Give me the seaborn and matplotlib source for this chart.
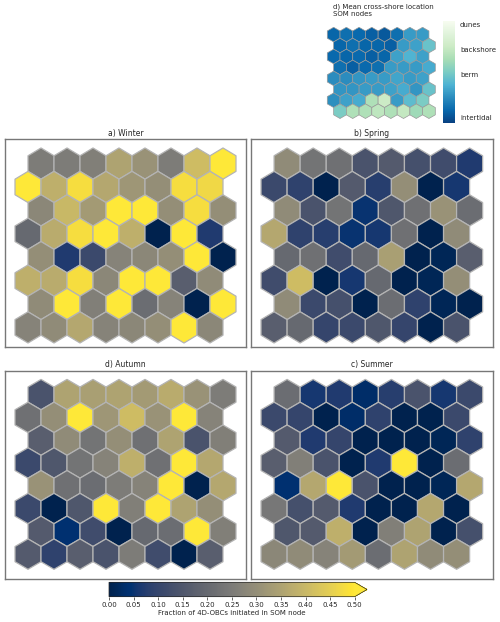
import numpy as np
import matplotlib
matplotlib.use("Agg")
import matplotlib.pyplot as plt
import seaborn as sns
from matplotlib.patches import RegularPolygon
from matplotlib.collections import PatchCollection
from matplotlib.colors import Normalize
from matplotlib.cm import ScalarMappable

# fraction of 4D-OBCs per SOM node (8 x 8 grid, top row first)
winter = [
    [0.25, 0.25, 0.26, 0.35, 0.31, 0.25, 0.41, 0.50],
    [0.50, 0.38, 0.48, 0.36, 0.32, 0.30, 0.48, 0.47],
    [0.28, 0.40, 0.33, 0.50, 0.50, 0.30, 0.48, 0.30],
    [0.20, 0.37, 0.48, 0.50, 0.38, 0.00, 0.50, 0.07],
    [0.30, 0.07, 0.11, 0.27, 0.28, 0.30, 0.50, 0.00],
    [0.38, 0.37, 0.48, 0.28, 0.50, 0.50, 0.17, 0.29],
    [0.29, 0.50, 0.26, 0.50, 0.21, 0.27, 0.00, 0.50],
    [0.27, 0.29, 0.36, 0.27, 0.28, 0.30, 0.50, 0.28],
]
spring = [
    [0.29, 0.23, 0.22, 0.14, 0.16, 0.13, 0.12, 0.07],
    [0.11, 0.09, 0.00, 0.16, 0.08, 0.30, 0.00, 0.06],
    [0.29, 0.14, 0.23, 0.05, 0.15, 0.22, 0.31, 0.21],
    [0.36, 0.09, 0.08, 0.05, 0.06, 0.22, 0.00, 0.29],
    [0.20, 0.22, 0.12, 0.20, 0.34, 0.00, 0.01, 0.17],
    [0.12, 0.41, 0.00, 0.06, 0.20, 0.00, 0.01, 0.30],
    [0.29, 0.11, 0.13, 0.00, 0.21, 0.09, 0.01, 0.00],
    [0.17, 0.20, 0.10, 0.11, 0.15, 0.10, 0.00, 0.14],
]
autumn = [
    [0.14, 0.35, 0.34, 0.35, 0.33, 0.37, 0.31, 0.25],
    [0.22, 0.30, 0.50, 0.32, 0.41, 0.31, 0.50, 0.27],
    [0.17, 0.29, 0.23, 0.30, 0.22, 0.35, 0.14, 0.26],
    [0.11, 0.15, 0.23, 0.27, 0.38, 0.22, 0.50, 0.36],
    [0.31, 0.22, 0.21, 0.25, 0.27, 0.50, 0.00, 0.36],
    [0.11, 0.00, 0.15, 0.50, 0.26, 0.50, 0.35, 0.30],
    [0.16, 0.04, 0.12, 0.00, 0.20, 0.21, 0.50, 0.26],
    [0.16, 0.09, 0.17, 0.14, 0.25, 0.12, 0.00, 0.17],
]
summer = [
    [0.21, 0.06, 0.07, 0.03, 0.08, 0.14, 0.06, 0.11],
    [0.11, 0.10, 0.00, 0.03, 0.09, 0.00, 0.00, 0.11],
    [0.16, 0.07, 0.10, 0.00, 0.00, 0.00, 0.01, 0.09],
    [0.17, 0.26, 0.14, 0.00, 0.07, 0.50, 0.00, 0.21],
    [0.04, 0.36, 0.50, 0.14, 0.00, 0.00, 0.01, 0.36],
    [0.24, 0.13, 0.16, 0.07, 0.00, 0.00, 0.36, 0.00],
    [0.15, 0.16, 0.38, 0.00, 0.26, 0.35, 0.00, 0.13],
    [0.28, 0.29, 0.27, 0.33, 0.21, 0.35, 0.29, 0.30],
]
# mean cross-shore location of each SOM node (0 = intertidal, 1 = dunes)
cross_shore = [
    [0.12, 0.15, 0.13, 0.10, 0.08, 0.15, 0.30, 0.30],
    [0.12, 0.15, 0.12, 0.12, 0.10, 0.30, 0.32, 0.45],
    [0.13, 0.12, 0.13, 0.10, 0.12, 0.32, 0.38, 0.32],
    [0.15, 0.10, 0.13, 0.15, 0.30, 0.30, 0.30, 0.35],
    [0.25, 0.25, 0.28, 0.30, 0.30, 0.33, 0.30, 0.32],
    [0.28, 0.28, 0.30, 0.30, 0.32, 0.35, 0.28, 0.45],
    [0.26, 0.32, 0.35, 0.65, 0.75, 0.30, 0.42, 0.50],
    [0.50, 0.65, 0.65, 0.70, 0.65, 0.72, 0.60, 0.65],
]
zone_ticks = [0.05, 0.48, 0.72, 0.97]
zone_labels = ["intertidal", "berm", "backshore", "dunes"]
frac_ticks = [0.00, 0.05, 0.10, 0.15, 0.20, 0.25, 0.30, 0.35, 0.40, 0.45, 0.50]

sns.set_style("white")
plt.rcParams["font.family"] = ["DejaVu Sans"]

frac_cmap = sns.color_palette("cividis", as_cmap=True)
zone_cmap = sns.color_palette("GnBu_r", as_cmap=True)
frac_norm = Normalize(vmin=0, vmax=0.5)
zone_norm = Normalize(vmin=0, vmax=1)

H = np.sqrt(3) / 2
R = 1 / np.sqrt(3)
W, HT = 500, 622


def px_rect(x0, y0, x1, y1):
    """Pixel box (from top-left) -> figure fraction rect."""
    return [x0 / W, 1 - y1 / HT, (x1 - x0) / W, (y1 - y0) / HT]


def draw_som(ax, values, cmap, norm, shift_top=True, edgecolor="#b4b4b4", lw=0.9):
    """Draw an 8x8 hexagonal SOM grid, first row of values at the top."""
    n = len(values)
    patches, vals = [], []
    for r, row in enumerate(values):
        shifted = (r % 2 == 0) if shift_top else (r % 2 == 1)
        for c, v in enumerate(row):
            x = c + (0.5 if shifted else 0.0)
            y = (n - 1 - r) * H
            patches.append(RegularPolygon((x, y), numVertices=6, radius=R))
            vals.append(v)
    pc = PatchCollection(patches, cmap=cmap, norm=norm,
                         edgecolor=edgecolor, linewidth=lw, clip_on=False)
    pc.set_array(np.array(vals))
    ax.add_collection(pc)
    ax.set_xticks([])
    ax.set_yticks([])


fig = plt.figure(figsize=(5, 6.22), dpi=100)

top_ylim = (-0.714, 6.96)
bottom_ylim = (-0.957, 6.97)
panels = [
    ("a) Winter", winter, px_rect(5, 139.3, 246, 346.7), top_ylim),
    ("b) Spring", spring, px_rect(251, 139.3, 492.7, 346.7), top_ylim),
    ("d) Autumn", autumn, px_rect(5, 370.7, 246, 579.3), bottom_ylim),
    ("c) Summer", summer, px_rect(251, 370.7, 492.7, 579.3), bottom_ylim),
]
for title, vals, rect, ylim in panels:
    ax = fig.add_axes(rect)
    draw_som(ax, vals, frac_cmap, frac_norm)
    ax.set_xlim(-0.885, 8.385)
    ax.set_ylim(*ylim)
    ax.set_title(title, fontsize=5.5, pad=2.5)
    for s in ax.spines.values():
        s.set_visible(True)
        s.set_color("#777777")
        s.set_linewidth(1.0)

# main colorbar
cax = fig.add_axes(px_rect(109, 582.3, 367, 596.7))
cb = fig.colorbar(ScalarMappable(norm=frac_norm, cmap=frac_cmap), cax=cax,
                  orientation="horizontal", extend="max")
cb.set_ticks(frac_ticks)
cb.ax.tick_params(labelsize=5, length=2.5, width=0.5, pad=1.5)
cb.set_label("Fraction of 4D-OBCs initiated in SOM node", fontsize=5, labelpad=1.5)
cb.outline.set_linewidth(0.5)

# inset: mean cross-shore location
iax = fig.add_axes(px_rect(327.3, 27.3, 435.3, 118.5))
draw_som(iax, cross_shore, zone_cmap, zone_norm, shift_top=False,
         edgecolor="#999999", lw=0.5)
iax.set_xlim(-0.5, 8.0)
iax.set_ylim(-R, 7 * H + R)
iax.axis("off")
fig.text(332.7 / W, 1 - 3 / HT, "d) Mean cross-shore location\nSOM nodes",
         fontsize=5, ha="left", va="top", linespacing=1.3)

zcax = fig.add_axes(px_rect(443.3, 21, 454.5, 123))
zcb = fig.colorbar(ScalarMappable(norm=zone_norm, cmap=zone_cmap), cax=zcax)
zcb.set_ticks(zone_ticks)
zcb.set_ticklabels(zone_labels)
zcb.ax.tick_params(labelsize=5, length=0, pad=4)
zcb.outline.set_visible(False)

fig.savefig("out.png", dpi=100)
